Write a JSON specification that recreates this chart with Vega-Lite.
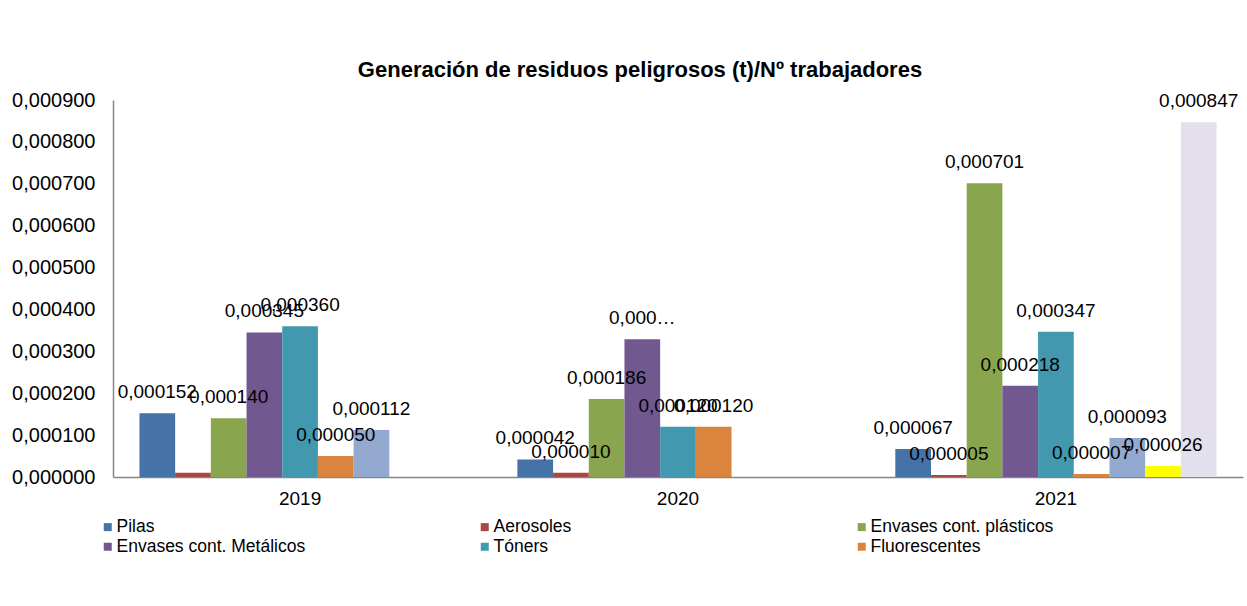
{
  "$schema": "https://vega.github.io/schema/vega-lite/v6.json",
  "autosize": {"type": "none"},
  "padding": {"left": 113, "top": 100, "right": 4, "bottom": 129},
  "width": 1130,
  "height": 377,
  "background": "white",
  "title": {
    "text": "Generación de residuos peligrosos (t)/Nº trabajadores",
    "font": "Liberation Sans",
    "fontSize": 22,
    "fontWeight": "bold",
    "color": "#000000",
    "anchor": "middle",
    "dx": -38,
    "offset": 8
  },
  "data": {
    "values": [
      {"anio": "2019", "residuo": "Pilas", "valor": 0.000152, "etiqueta": "0,000152"},
      {"anio": "2019", "residuo": "Aerosoles", "valor": 0.000010, "etiqueta": ""},
      {"anio": "2019", "residuo": "Envases cont. plásticos", "valor": 0.000140, "etiqueta": "0,000140"},
      {"anio": "2019", "residuo": "Envases cont. Metálicos", "valor": 0.000345, "etiqueta": "0,000345"},
      {"anio": "2019", "residuo": "Tóners", "valor": 0.000360, "etiqueta": "0,000360"},
      {"anio": "2019", "residuo": "Fluorescentes", "valor": 0.000050, "etiqueta": "0,000050"},
      {"anio": "2019", "residuo": "Serie 7", "valor": 0.000112, "etiqueta": "0,000112"},
      {"anio": "2020", "residuo": "Pilas", "valor": 0.000042, "etiqueta": "0,000042"},
      {"anio": "2020", "residuo": "Aerosoles", "valor": 0.000010, "etiqueta": "0,000010"},
      {"anio": "2020", "residuo": "Envases cont. plásticos", "valor": 0.000186, "etiqueta": "0,000186"},
      {"anio": "2020", "residuo": "Envases cont. Metálicos", "valor": 0.000329, "etiqueta": "0,000…"},
      {"anio": "2020", "residuo": "Tóners", "valor": 0.000120, "etiqueta": "0,000120"},
      {"anio": "2020", "residuo": "Fluorescentes", "valor": 0.000120, "etiqueta": "0,000120"},
      {"anio": "2021", "residuo": "Pilas", "valor": 0.000067, "etiqueta": "0,000067"},
      {"anio": "2021", "residuo": "Aerosoles", "valor": 0.000005, "etiqueta": "0,000005"},
      {"anio": "2021", "residuo": "Envases cont. plásticos", "valor": 0.000701, "etiqueta": "0,000701"},
      {"anio": "2021", "residuo": "Envases cont. Metálicos", "valor": 0.000218, "etiqueta": "0,000218"},
      {"anio": "2021", "residuo": "Tóners", "valor": 0.000347, "etiqueta": "0,000347"},
      {"anio": "2021", "residuo": "Fluorescentes", "valor": 0.000007, "etiqueta": "0,000007"},
      {"anio": "2021", "residuo": "Serie 7", "valor": 0.000093, "etiqueta": "0,000093"},
      {"anio": "2021", "residuo": "Serie 8", "valor": 0.000026, "etiqueta": "0,000026"},
      {"anio": "2021", "residuo": "Serie 9", "valor": 0.000847, "etiqueta": "0,000847"}
    ]
  },
  "encoding": {
    "x": {
      "field": "anio",
      "type": "nominal",
      "scale": {"paddingInner": 0.15, "paddingOuter": 0.07},
      "axis": {
        "title": null,
        "labelAngle": 0,
        "ticks": false,
        "tickSize": 0,
        "domainColor": "#868686",
        "domainWidth": 1.5,
        "labelFont": "Liberation Sans",
        "labelFontSize": 19,
        "labelColor": "#000000",
        "labelPadding": 12
      }
    },
    "xOffset": {
      "field": "residuo",
      "type": "nominal",
      "scale": {
        "domain": ["Pilas", "Aerosoles", "Envases cont. plásticos", "Envases cont. Metálicos", "Tóners", "Fluorescentes", "Serie 7", "Serie 8", "Serie 9"],
        "paddingInner": 0,
        "paddingOuter": 0
      }
    },
    "y": {
      "field": "valor",
      "type": "quantitative",
      "scale": {"domain": [0, 0.0009], "nice": false},
      "axis": {
        "title": null,
        "values": [0, 0.0001, 0.0002, 0.0003, 0.0004, 0.0005, 0.0006, 0.0007, 0.0008, 0.0009],
        "labelExpr": "replace(format(datum.value, '.6f'), '.', ',')",
        "grid": false,
        "ticks": false,
        "tickSize": 0,
        "domainColor": "#868686",
        "domainWidth": 1.5,
        "labelFont": "Liberation Sans",
        "labelFontSize": 20,
        "labelColor": "#000000",
        "labelPadding": 18
      }
    }
  },
  "layer": [
    {
      "mark": {"type": "bar"},
      "encoding": {
        "color": {
          "field": "residuo",
          "type": "nominal",
          "scale": {
            "domain": ["Pilas", "Aerosoles", "Envases cont. plásticos", "Envases cont. Metálicos", "Tóners", "Fluorescentes", "Serie 7", "Serie 8", "Serie 9"],
            "range": ["#4572A7", "#AA4643", "#89A54E", "#71588F", "#4198AF", "#DB843D", "#93A9CF", "#FFFF00", "#E4DFEC"]
          },
          "legend": {
            "values": ["Pilas", "Aerosoles", "Envases cont. plásticos", "Envases cont. Metálicos", "Tóners", "Fluorescentes"],
            "orient": "none",
            "legendX": -14,
            "legendY": 418,
            "columns": 3,
            "direction": "horizontal",
            "gridAlign": "all",
            "columnPadding": 170,
            "rowPadding": 1,
            "title": null,
            "labelFont": "Liberation Sans",
            "labelFontSize": 17.5,
            "labelColor": "#000000",
            "labelLimit": 300,
            "labelOffset": 0,
            "symbolType": "square",
            "symbolSize": 64,
            "symbolStrokeWidth": 0
          }
        }
      }
    },
    {
      "mark": {"type": "text", "dy": -21, "baseline": "middle", "font": "Liberation Sans", "fontSize": 19, "color": "#000000"},
      "encoding": {"text": {"field": "etiqueta"}}
    }
  ],
  "config": {"view": {"stroke": null}}
}
